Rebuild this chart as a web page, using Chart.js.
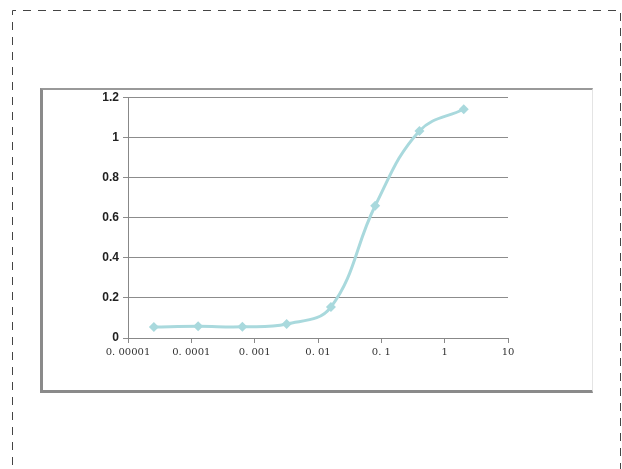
<!DOCTYPE html>
<html>
<head>
<meta charset="utf-8">
<script src="https://cdn.jsdelivr.net/npm/chart.js@4/dist/chart.umd.min.js"></script>
<style>
  html, body { margin: 0; padding: 0; background: #fff; }
  body { width: 622px; height: 469px; position: relative; overflow: hidden; }
  #frame { position: absolute; left: 0; top: 0; }
  #box {
    position: absolute; left: 40px; top: 88px; width: 553px; height: 305px;
    box-sizing: border-box;
    border-top: 2px solid #999; border-left: 3px solid #8a8a8a;
    border-bottom: 3px solid #8a8a8a; border-right: 1px solid #e4e4e4;
  }
  #wrap { position: absolute; left: 0; top: -4px; width: 549px; height: 300px; }
</style>
</head>
<body>
<svg id="frame" width="622" height="469">
  <path d="M12.5 480 V10.5 H620.5 V480" fill="none" stroke="#444" stroke-width="1" stroke-dasharray="8 7"/>
</svg>
<div id="box"><div id="wrap"><canvas id="chart"></canvas></div></div>
<script>
const concentraciones = [0.0000256, 0.000128, 0.00064, 0.0032, 0.016, 0.08, 0.4, 2];
const respuestas = [0.055, 0.058, 0.056, 0.07, 0.154, 0.659, 1.032, 1.14];
const decadas = [0.00001, 0.0001, 0.001, 0.01, 0.1, 1, 10];
const etiquetasX = ['0. 00001', '0. 0001', '0. 001', '0. 01', '0. 1', '1', '10'];
const etiquetasY = ['0', '0.2', '0.4', '0.6', '0.8', '1', '1.2'];

const puntos = concentraciones.map((c, i) => ({ x: c, y: respuestas[i] }));
const color = '#a9d9dd';

new Chart(document.getElementById('chart'), {
  type: 'line',
  data: {
    datasets: [{
      data: puntos,
      borderColor: color,
      backgroundColor: color,
      borderWidth: 3,
      tension: 0.4,
      pointStyle: 'rectRot',
      pointRadius: 5,
      pointBorderWidth: 0,
      fill: false
    }]
  },
  options: {
    responsive: true,
    maintainAspectRatio: false,
    animation: false,
    layout: { padding: { left: 0, right: 84, top: 3, bottom: 25 } },
    plugins: { legend: { display: false }, tooltip: { enabled: false } },
    scales: {
      x: {
        type: 'logarithmic',
        min: 0.00001,
        max: 10,
        afterBuildTicks: (s) => { s.ticks = decadas.map(v => ({ value: v })); },
        afterFit: (s) => { s.height = 23; },
        border: { display: true, color: '#888', width: 1 },
        grid: { drawOnChartArea: false, drawTicks: true, tickLength: 5, color: '#888' },
        ticks: {
          autoSkip: false, maxRotation: 0, padding: 3,
          color: '#333',
          font: { family: '"DejaVu Serif", "Liberation Serif", serif', size: 10 },
          callback: (v, i) => etiquetasX[i]
        }
      },
      y: {
        min: 0,
        max: 1.2,
        afterBuildTicks: (s) => { s.ticks = etiquetasY.map(t => ({ value: parseFloat(t) })); },
        afterFit: (s) => { s.width = 85; },
        border: { display: true, color: '#888', width: 1 },
        grid: { color: '#8c8c8c', lineWidth: 1, tickLength: 5 },
        ticks: {
          padding: 4,
          color: '#222',
          font: { family: '"Liberation Sans", Arial, sans-serif', size: 12, weight: 'bold' },
          callback: (v, i) => etiquetasY[i]
        }
      }
    }
  }
});
</script>
</body>
</html>
